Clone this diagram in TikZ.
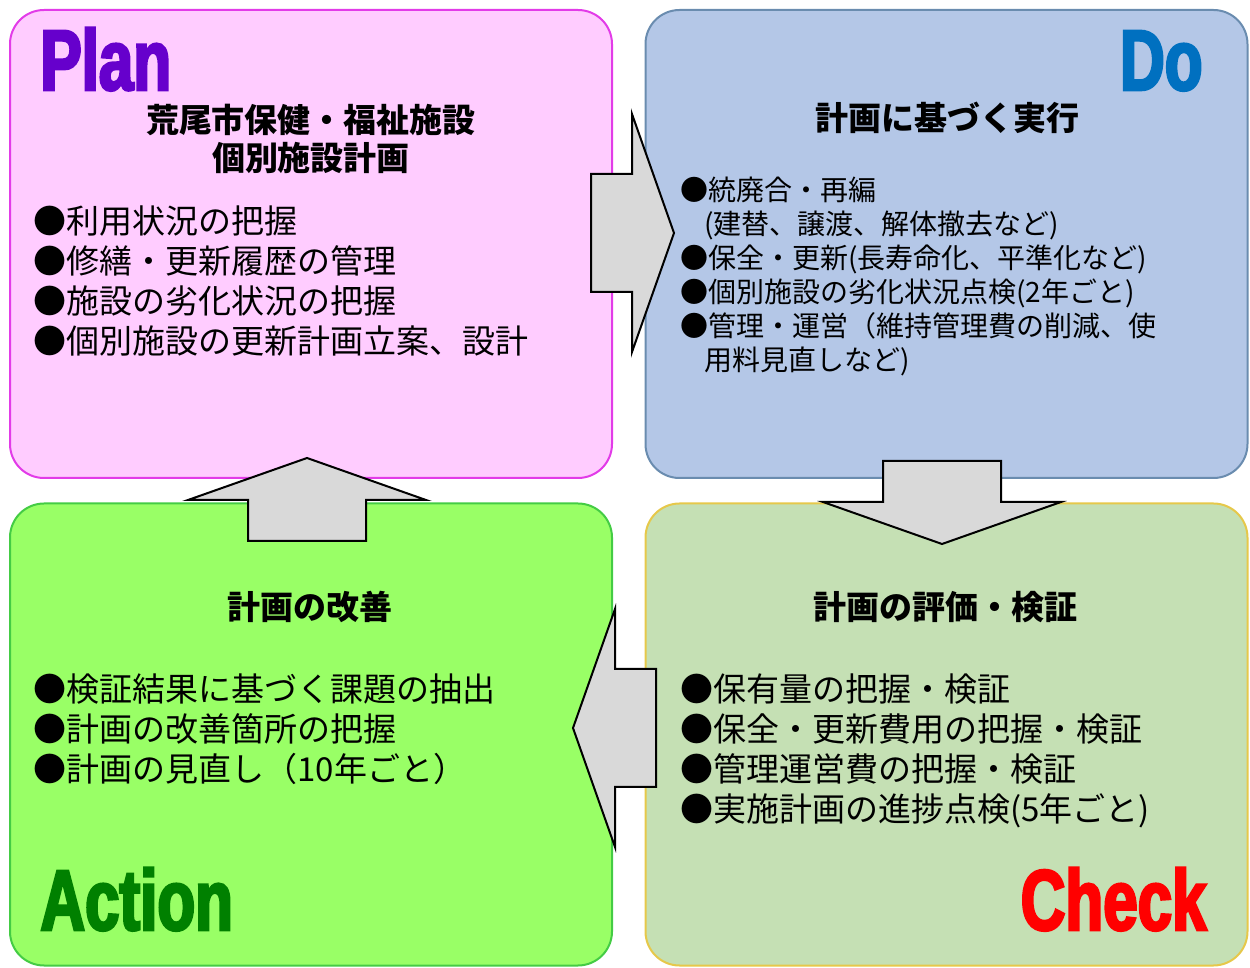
\documentclass[tikz,border=0pt]{standalone}
\usepackage{fontspec}
\newfontfamily\jp{Noto Sans CJK JP}
\newfontfamily\ttlfont[FakeStretch=0.72,FakeBold=3]{Liberation Sans}
\usetikzlibrary{calc}
\definecolor{planfill}{HTML}{FFCCFF}
\definecolor{planline}{HTML}{E23BE8}
\definecolor{plancol}{HTML}{6600CC}
\definecolor{dofill}{HTML}{B4C7E7}
\definecolor{doline}{HTML}{6A8CAF}
\definecolor{docol}{HTML}{0070C0}
\definecolor{actfill}{HTML}{99FF66}
\definecolor{actline}{HTML}{44CC44}
\definecolor{actcol}{HTML}{008000}
\definecolor{chkfill}{HTML}{C5E0B4}
\definecolor{chkline}{HTML}{E6C84A}
\definecolor{chkcol}{HTML}{FF0000}
\definecolor{arrowfill}{HTML}{D9D9D9}

\begin{document}
\begin{tikzpicture} [x=.5pt, y=-.5pt,
  panel/.style={rounded corners=17pt, line width=1pt, minimum width=301pt, inner sep=0},
  blk/.style={draw=black, fill=arrowfill, line width=1pt, line join=miter},
  head/.style={font=\jp\bfseries\fontsize{16.5}{19}\selectfont, align=center, inner sep=0},
  items/.style={font=\jp\fontsize{16.5}{20}\selectfont, align=left, anchor=north west, inner sep=0},
  ttl/.style={font=\ttlfont\bfseries\fontsize{43}{43}\selectfont, inner sep=0}]
\useasboundingbox (0,0) rectangle (1250,968);
\node[panel, fill=planfill, draw=planline, minimum height=234pt] (plan) at (311,244) {};
\node[panel, fill=dofill, draw=doline, minimum height=234pt] (do) at (946.5,244) {};
\node[panel, fill=actfill, draw=actline, minimum height=231pt] (act) at (311,734.5) {};
\node[panel, fill=chkfill, draw=chkline, minimum height=231pt] (chk) at (946.5,734.5) {};
\foreach \cx/\cy/\ang in {632/233/0, 942/502/-90, 615/728/180, 307/500/90} {
 \draw[blk, shift={(\cx,\cy)}, rotate=\ang] (-41,-59) -- (0,-59) -- (0,-119) -- (42,0) -- (0,119) -- (0,59) -- (-41,59) -- cycle;
}
\node[ttl, text=plancol, anchor=base west] (plantitle) at (40,90) {Plan};
\node[ttl, text=docol, anchor=base east] (dotitle) at (1203,90) {Do};
\node[ttl, text=actcol, anchor=base west] (acttitle) at (40,930) {Action};
\node[ttl, text=chkcol, anchor=base east] (chktitle) at (1207,930) {Check};
\node[head] (planhead) at (311,139) {荒尾市保健・福祉施設\\個別施設計画};
\node[head] (dohead) at (947,118) {計画に基づく実行};
\node[head] (acthead) at (310,607) {計画の改善};
\node[head] (chkhead) at (945,607) {計画の評価・検証};
\node[items] (planlist) at (33,205) {●利用状況の把握\\●修繕・更新履歴の管理\\●施設の劣化状況の把握\\●個別施設の更新計画立案、設計};
\node[items, font=\jp\fontsize{14}{17}\selectfont] (dolist) at (680,177) {●統廃合・再編\\\hspace*{.85em}(建替、譲渡、解体撤去など)\\●保全・更新(長寿命化、平準化など)\\●個別施設の劣化状況点検(2年ごと)\\●管理・運営（維持管理費の削減、使\\\hspace*{.85em}用料見直しなど)};
\node[items] (actlist) at (33,673) {●検証結果に基づく課題の抽出\\●計画の改善箇所の把握\\●計画の見直し（10年ごと）};
\node[items] (chklist) at (680,673) {●保有量の把握・検証\\●保全・更新費用の把握・検証\\●管理運営費の把握・検証\\●実施計画の進捗点検(5年ごと)};
\end{tikzpicture}
\end{document}
